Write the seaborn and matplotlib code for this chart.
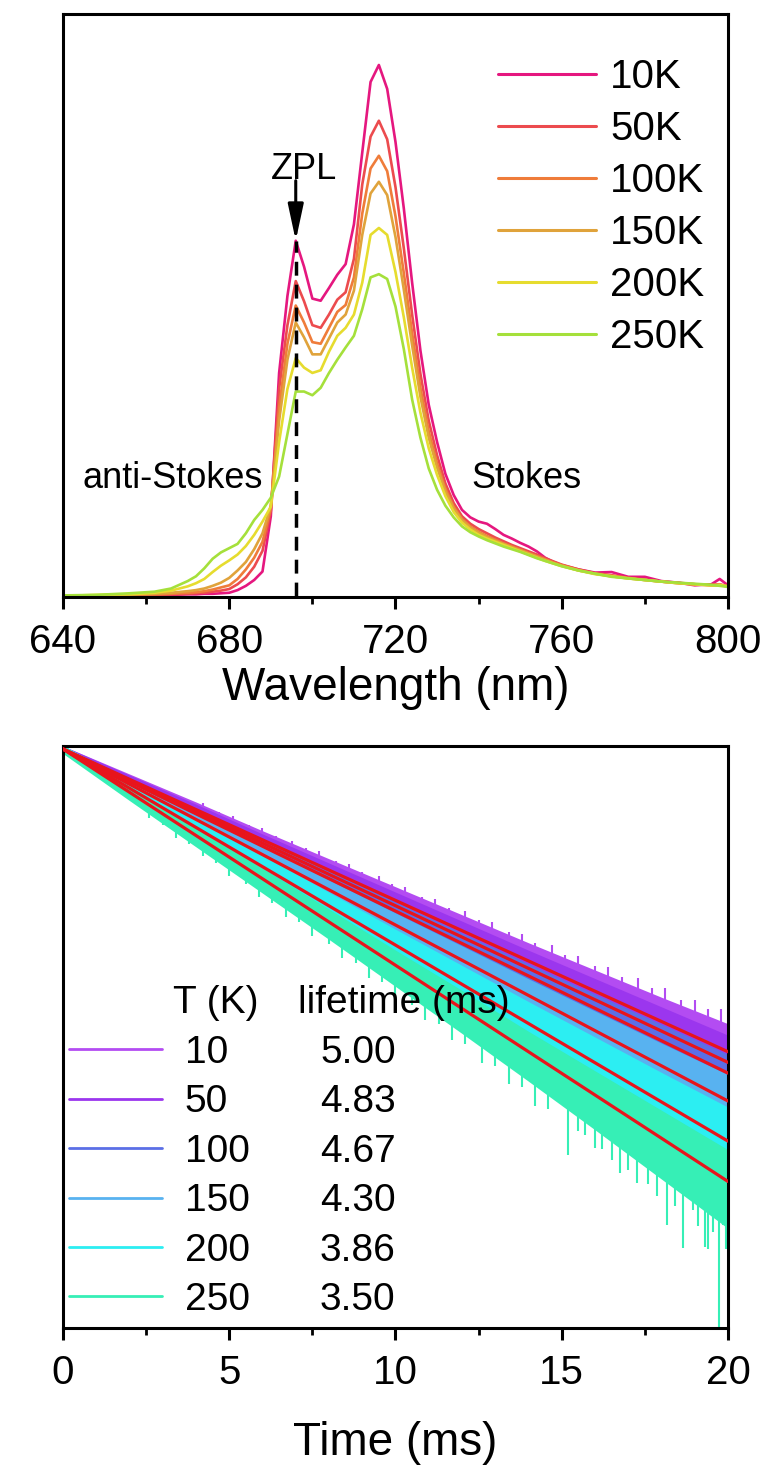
import numpy as np
import pandas as pd
import seaborn as sns
import matplotlib
matplotlib.use("Agg")
import matplotlib.pyplot as plt
from matplotlib.lines import Line2D
from matplotlib.ticker import MultipleLocator, NullLocator

# ---------------- emission spectra ----------------
wavelength = [640, 648, 656, 662, 666, 670, 672, 674, 676, 678,
              680, 682, 684, 686, 688, 690, 692, 694, 696, 698,
              700, 702, 704, 706, 708, 710, 712, 714, 716, 718,
              720, 722, 724, 726, 728, 730, 732, 734, 736, 738,
              740, 742, 744, 746, 748, 750, 752, 754, 756, 758,
              760, 764, 768, 772, 776, 780, 784, 788, 792, 796,
              798, 800]

spec_temps = ["10K", "50K", "100K", "150K", "200K", "250K"]

spec_10K = [0.000, 0.001, 0.001, 0.002, 0.002, 0.003, 0.003, 0.004, 0.004, 0.005,
            0.006, 0.011, 0.019, 0.030, 0.046, 0.150, 0.420, 0.565, 0.669, 0.620,
            0.560, 0.556, 0.580, 0.605, 0.625, 0.700, 0.835, 0.968, 1.000, 0.955,
            0.855, 0.730, 0.590, 0.462, 0.360, 0.290, 0.230, 0.190, 0.162, 0.148,
            0.140, 0.136, 0.126, 0.115, 0.108, 0.100, 0.093, 0.084, 0.072, 0.064,
            0.058, 0.050, 0.044, 0.045, 0.036, 0.036, 0.028, 0.025, 0.020, 0.022,
            0.032, 0.020]
spec_50K = [0.000, 0.001, 0.002, 0.002, 0.003, 0.004, 0.005, 0.006, 0.008, 0.010,
            0.013, 0.022, 0.035, 0.055, 0.085, 0.160, 0.390, 0.510, 0.593, 0.555,
            0.510, 0.505, 0.530, 0.558, 0.572, 0.635, 0.775, 0.865, 0.895, 0.860,
            0.770, 0.655, 0.530, 0.418, 0.330, 0.265, 0.212, 0.175, 0.150, 0.136,
            0.126, 0.118, 0.110, 0.103, 0.096, 0.090, 0.084, 0.078, 0.071, 0.065,
            0.059, 0.050, 0.043, 0.039, 0.034, 0.031, 0.027, 0.025, 0.022, 0.021,
            0.022, 0.018]
spec_100K = [0.000, 0.001, 0.002, 0.003, 0.004, 0.006, 0.007, 0.009, 0.012, 0.016,
             0.020, 0.032, 0.050, 0.072, 0.102, 0.165, 0.355, 0.475, 0.547, 0.515,
             0.478, 0.475, 0.505, 0.535, 0.548, 0.600, 0.720, 0.805, 0.829, 0.800,
             0.715, 0.608, 0.495, 0.392, 0.310, 0.250, 0.202, 0.168, 0.145, 0.131,
             0.121, 0.113, 0.106, 0.099, 0.093, 0.087, 0.081, 0.075, 0.069, 0.063,
             0.058, 0.049, 0.042, 0.038, 0.034, 0.030, 0.027, 0.024, 0.022, 0.020,
             0.021, 0.018]
spec_150K = [0.000, 0.001, 0.003, 0.004, 0.006, 0.009, 0.011, 0.014, 0.019, 0.025,
             0.034, 0.048, 0.064, 0.088, 0.118, 0.170, 0.330, 0.445, 0.515, 0.487,
             0.455, 0.455, 0.485, 0.515, 0.530, 0.575, 0.680, 0.758, 0.780, 0.755,
             0.676, 0.577, 0.472, 0.375, 0.298, 0.242, 0.197, 0.165, 0.143, 0.129,
             0.119, 0.111, 0.104, 0.098, 0.092, 0.086, 0.080, 0.074, 0.068, 0.062,
             0.057, 0.048, 0.042, 0.037, 0.033, 0.030, 0.027, 0.024, 0.022, 0.020,
             0.020, 0.018]
spec_200K = [0.000, 0.002, 0.003, 0.006, 0.010, 0.018, 0.024, 0.032, 0.045, 0.057,
             0.067, 0.078, 0.094, 0.115, 0.140, 0.168, 0.290, 0.390, 0.448, 0.430,
             0.420, 0.425, 0.460, 0.490, 0.505, 0.530, 0.590, 0.680, 0.693, 0.680,
             0.610, 0.525, 0.430, 0.345, 0.278, 0.228, 0.188, 0.158, 0.138, 0.125,
             0.115, 0.108, 0.102, 0.096, 0.090, 0.084, 0.078, 0.072, 0.066, 0.061,
             0.056, 0.048, 0.041, 0.037, 0.033, 0.030, 0.027, 0.024, 0.022, 0.020,
             0.021, 0.018]
spec_250K = [0.001, 0.002, 0.005, 0.008, 0.014, 0.028, 0.037, 0.052, 0.070, 0.082,
             0.090, 0.098, 0.118, 0.143, 0.162, 0.185, 0.225, 0.305, 0.385, 0.385,
             0.378, 0.392, 0.420, 0.445, 0.468, 0.490, 0.540, 0.600, 0.606, 0.597,
             0.545, 0.465, 0.370, 0.298, 0.240, 0.200, 0.170, 0.148, 0.131, 0.120,
             0.112, 0.105, 0.099, 0.093, 0.088, 0.083, 0.077, 0.071, 0.066, 0.061,
             0.056, 0.048, 0.042, 0.036, 0.033, 0.030, 0.027, 0.025, 0.023, 0.021,
             0.019, 0.017]

spec_colors = ["#E5177F", "#EC4B4E", "#EF7C3A", "#E0A33B", "#E6DC2E", "#A5E03B"]

zpl_wavelength = 696

# ---------------- luminescence decay ----------------
decay_temps = ["10", "50", "100", "150", "200", "250"]
lifetimes_ms = [5.00, 4.83, 4.67, 4.30, 3.86, 3.50]
decay_colors = ["#B34CF2", "#9B36EE", "#5B6FE6", "#58B2F0", "#2CEEF2", "#36EFB6"]
fit_color = "#E8141C"

# noise envelope of the measured traces (ln-units above / below the fit)
band_t = [0, 2, 4, 6, 8, 10, 12, 14, 16, 18, 20]
band_up = [
    [0.04, 0.07, 0.10, 0.12, 0.15, 0.18, 0.21, 0.24, 0.28, 0.32, 0.37],
    [0.04, 0.07, 0.10, 0.12, 0.15, 0.18, 0.21, 0.24, 0.28, 0.32, 0.36],
    [0.03, 0.05, 0.07, 0.08, 0.10, 0.12, 0.14, 0.16, 0.19, 0.22, 0.25],
    [0.04, 0.06, 0.09, 0.11, 0.13, 0.16, 0.19, 0.22, 0.26, 0.30, 0.35],
    [0.05, 0.08, 0.12, 0.15, 0.18, 0.21, 0.25, 0.29, 0.34, 0.39, 0.45],
    [0.05, 0.08, 0.11, 0.14, 0.17, 0.20, 0.24, 0.27, 0.32, 0.37, 0.42],
]
band_lo = [
    [0.03, 0.06, 0.09, 0.11, 0.13, 0.16, 0.19, 0.22, 0.25, 0.29, 0.33],
    [0.03, 0.06, 0.09, 0.11, 0.13, 0.16, 0.19, 0.22, 0.25, 0.29, 0.33],
    [0.04, 0.07, 0.10, 0.12, 0.15, 0.18, 0.21, 0.24, 0.28, 0.32, 0.37],
    [0.04, 0.08, 0.11, 0.14, 0.17, 0.20, 0.24, 0.28, 0.32, 0.37, 0.42],
    [0.05, 0.09, 0.13, 0.17, 0.20, 0.24, 0.28, 0.33, 0.38, 0.44, 0.50],
    [0.06, 0.11, 0.15, 0.19, 0.23, 0.28, 0.33, 0.39, 0.46, 0.54, 0.62],
]

# noise spikes on the outer edges of the traces (ln-units from the fit)
spikes_10_t = [4.2, 4.7, 5.1, 5.6, 6.0, 6.4, 6.9, 7.3, 7.7, 8.2, 8.6, 9.0, 9.5,
               9.9, 10.3, 10.8, 11.2, 11.6, 12.1, 12.5, 12.9, 13.4, 13.8, 14.2,
               14.7, 15.1, 15.5, 16.0, 16.4, 16.8, 17.3, 17.7, 18.1, 18.6, 19.0,
               19.4, 19.8]
spikes_10_up = [0.13, 0.11, 0.14, 0.12, 0.16, 0.13, 0.17, 0.15, 0.19, 0.16, 0.20,
                0.18, 0.22, 0.19, 0.24, 0.21, 0.26, 0.22, 0.28, 0.24, 0.30, 0.26,
                0.32, 0.28, 0.35, 0.30, 0.37, 0.33, 0.40, 0.35, 0.43, 0.38, 0.46,
                0.41, 0.49, 0.44, 0.52]
spikes_250_t = [2.6, 3.0, 3.4, 3.8, 4.2, 4.6, 5.0, 5.5, 5.9, 6.3, 6.7, 7.1, 7.5,
                8.0, 8.4, 8.8, 9.2, 9.6, 10.0, 10.5, 10.9, 11.3, 11.7, 12.1, 12.6,
                13.0, 13.4, 13.8, 14.2, 14.6, 15.2, 15.5, 15.7, 16.0, 16.2, 16.5,
                16.75, 17.0, 17.26, 17.6, 17.86, 18.16, 18.4, 18.65, 18.95, 19.1,
                19.3, 19.4, 19.55, 19.73, 19.85, 19.95]
spikes_250_down = [0.17, 0.15, 0.20, 0.17, 0.22, 0.19, 0.25, 0.21, 0.27, 0.24,
                   0.30, 0.26, 0.33, 0.29, 0.36, 0.31, 0.40, 0.34, 0.43, 0.38,
                   0.47, 0.41, 0.50, 0.44, 0.55, 0.48, 0.60, 0.52, 0.66, 0.58,
                   1.02, 0.62, 0.61, 0.70, 0.66, 0.72, 0.82, 0.70, 0.80, 0.72,
                   0.80, 1.10, 0.78, 1.26, 0.68, 0.85, 1.07, 1.07, 0.80, 8.00,
                   0.62, 0.90]

# ---------------- style ----------------
sns.set_theme(style="white")
plt.rcParams["font.family"] = ["Liberation Sans", "DejaVu Sans"]
plt.rcParams["text.color"] = "black"
plt.rcParams["axes.labelcolor"] = "black"
plt.rcParams["xtick.color"] = "black"
plt.rcParams["ytick.color"] = "black"

fig = plt.figure(figsize=(7.69, 14.65), dpi=100)
ax1 = fig.add_axes([0.08192, 0.59249, 0.86476, 0.39795])
ax2 = fig.add_axes([0.08192, 0.09352, 0.86476, 0.39727])

for ax in (ax1, ax2):
    for sp in ax.spines.values():
        sp.set_linewidth(2.2)
        sp.set_color("black")
    ax.tick_params(axis="x", which="major", direction="out", length=8.5, width=2.2,
                   labelsize=29, pad=10, bottom=True, top=False)
    ax.tick_params(axis="x", which="minor", direction="out", length=5, width=2.0,
                   bottom=True, top=False)
    ax.tick_params(axis="y", which="both", left=False, right=False, labelleft=False)

# ---------------- top panel: spectra ----------------
spec_table = pd.DataFrame({
    "wavelength": wavelength * len(spec_temps),
    "intensity": spec_10K + spec_50K + spec_100K + spec_150K + spec_200K + spec_250K,
    "T": [t for t in spec_temps for _ in wavelength],
})
sns.lineplot(data=spec_table, x="wavelength", y="intensity", hue="T",
             hue_order=spec_temps, palette=spec_colors, linewidth=1.9,
             estimator=None, sort=False, legend=False, ax=ax1)

ax1.set_xlim(640, 800)
ax1.set_ylim(-0.002, 1.096)
ax1.xaxis.set_major_locator(MultipleLocator(40))
ax1.xaxis.set_minor_locator(MultipleLocator(20))
ax1.yaxis.set_major_locator(NullLocator())

zpl_peak = spec_10K[wavelength.index(zpl_wavelength)]
ax1.plot([zpl_wavelength, zpl_wavelength], [0, zpl_peak], color="black",
         lw=2.5, dashes=(4, 2.6), zorder=6)
ax1.annotate("", xy=(zpl_wavelength, zpl_peak), xytext=(zpl_wavelength, 0.782),
             arrowprops=dict(arrowstyle="-|>,head_length=2.2,head_width=0.47",
                             mutation_scale=10, lw=2.2, color="black",
                             shrinkA=0, shrinkB=0), zorder=7)
ax1.text(698, 0.785, "ZPL", ha="center", va="baseline", fontsize=26)
ax1.text(644.6, 0.203, "anti-Stokes", ha="left", va="baseline", fontsize=26)
ax1.text(738.2, 0.203, "Stokes", ha="left", va="baseline", fontsize=26)

spec_handles = [Line2D([], [], color=c, lw=2.2) for c in spec_colors]
ax1.legend(spec_handles, spec_temps, loc="upper left", bbox_to_anchor=(0.654, 0.925),
           frameon=False, fontsize=29, handlelength=2.43, handletextpad=0.35,
           labelspacing=0.35, borderpad=0, borderaxespad=0)

ax1.set_xlabel("Wavelength (nm)", fontsize=33)
ax1.set_ylabel("Intensity (a.u.)", fontsize=33)
ax1.xaxis.set_label_coords(0.5, -0.118)
ax1.yaxis.set_label_coords(-0.005, 0.5)

# ---------------- bottom panel: decay curves ----------------
ax2.set_yscale("log")
t_arr = np.array(band_t, dtype=float)
for i, (tau, col) in enumerate(zip(lifetimes_ms, decay_colors)):
    fit_vals = np.exp(-t_arr / tau)
    upper = fit_vals * np.exp(np.array(band_up[i]))
    lower = fit_vals * np.exp(-np.array(band_lo[i]))
    ax2.fill_between(t_arr, lower, upper, color=col, lw=0, zorder=2 + 0.1 * i)
    if i == 0:
        st = np.array(spikes_10_t)
        base = np.exp(-st / tau)
        ax2.vlines(st, base, base * np.exp(np.array(spikes_10_up)), color=col,
                   lw=1.5, zorder=2 + 0.1 * i)
    if i == len(lifetimes_ms) - 1:
        st = np.array(spikes_250_t)
        base = np.exp(-st / tau)
        ax2.vlines(st, base * np.exp(-np.array(spikes_250_down)), base, color=col,
                   lw=1.5, zorder=2 + 0.1 * i)

fit_table = pd.DataFrame({
    "t": [0.0, 20.0] * len(decay_temps),
    "I": [np.exp(-tt / tau) for tau in lifetimes_ms for tt in (0.0, 20.0)],
    "T": [t for t in decay_temps for _ in range(2)],
})
sns.lineplot(data=fit_table, x="t", y="I", hue="T", hue_order=decay_temps,
             palette=[fit_color] * len(decay_temps), linewidth=2.3,
             estimator=None, sort=False, legend=False, ax=ax2, zorder=5)

ax2.set_xlim(0, 20)
ax2.set_ylim(np.exp(-7.65), np.exp(0.04))
ax2.xaxis.set_major_locator(MultipleLocator(5))
ax2.xaxis.set_minor_locator(MultipleLocator(2.5))
ax2.yaxis.set_major_locator(NullLocator())
ax2.yaxis.set_minor_locator(NullLocator())

decay_handles = [Line2D([], [], color=c, lw=2.0) for c in decay_colors]
leg2 = ax2.legend(decay_handles, decay_temps, loc="upper left",
                  bbox_to_anchor=(0.009, 0.5034), frameon=False, fontsize=28,
                  handlelength=2.39, handletextpad=0.59, labelspacing=0.345,
                  borderpad=0, borderaxespad=0)
leg2.set_zorder(10)

ax2.text(0.1654, 0.5412, "T (K)", transform=ax2.transAxes, ha="left",
         va="baseline", fontsize=28, zorder=10)
ax2.text(0.3534, 0.5412, "lifetime (ms)", transform=ax2.transAxes, ha="left",
         va="baseline", fontsize=28, zorder=10)

ax2.set_xlabel("Time (ms)", fontsize=33)
ax2.set_ylabel("Intensity (a.u.)", fontsize=33)
ax2.xaxis.set_label_coords(0.5, -0.160)
ax2.yaxis.set_label_coords(-0.017, 0.5)

# lifetime column aligned with the legend rows
fig.canvas.draw()
inv = ax2.transAxes.inverted()
for txt, tau in zip(leg2.get_texts(), lifetimes_ms):
    bb = txt.get_window_extent()
    y_ax = inv.transform((0, 0.5 * (bb.y0 + bb.y1)))[1]
    ax2.text(0.3865, y_ax, f"{tau:.2f}", transform=ax2.transAxes, ha="left",
             va="center", fontsize=28, zorder=10)

fig.savefig("out.png", dpi=100)
